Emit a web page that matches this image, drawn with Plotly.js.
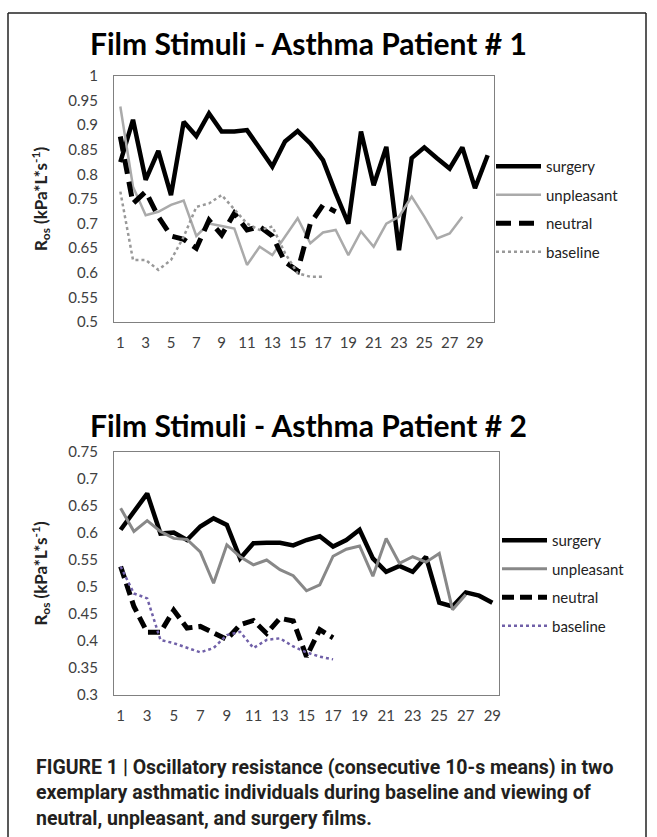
<!DOCTYPE html>
<html>
<head>
<meta charset="utf-8">
<script src="https://cdn.plot.ly/plotly-3.0.1.min.js"></script>
<style>
html,body{margin:0;padding:0;background:#fff;}
#chart{width:657px;height:837px;}
</style>
</head>
<body>
<div id="chart"></div>
<script>
// ---- data ----
const xCats1 = [1,2,3,4,5,6,7,8,9,10,11,12,13,14,15,16,17,18,19,20,21,22,23,24,25,26,27,28,29,30];
const xCats2 = [1,2,3,4,5,6,7,8,9,10,11,12,13,14,15,16,17,18,19,20,21,22,23,24,25,26,27,28,29];
const xTickVals = [1,3,5,7,9,11,13,15,17,19,21,23,25,27,29];
const xTickText = ["1","3","5","7","9","11","13","15","17","19","21","23","25","27","29"];
const yTicks1 = [0.5,0.55,0.6,0.65,0.7,0.75,0.8,0.85,0.9,0.95,1];
const yTickText1 = ["0.5","0.55","0.6","0.65","0.7","0.75","0.8","0.85","0.9","0.95","1"];
const yTicks2 = [0.3,0.35,0.4,0.45,0.5,0.55,0.6,0.65,0.7,0.75];
const yTickText2 = ["0.3","0.35","0.4","0.45","0.5","0.55","0.6","0.65","0.7","0.75"];
const seriesNames = ["surgery","unpleasant","neutral","baseline"];

// Patient 1
const surgery1 = [0.825,0.911,0.789,0.848,0.758,0.907,0.878,0.924,0.887,0.887,0.890,0.853,0.816,0.867,0.888,0.863,0.829,0.762,0.700,0.887,0.778,0.856,0.646,0.833,0.855,0.833,0.812,0.855,0.772,0.839];
const unpleasant1 = [0.938,0.775,0.717,0.724,0.738,0.747,0.675,0.700,0.695,0.690,0.616,0.653,0.636,0.673,0.711,0.660,0.682,0.687,0.636,0.684,0.653,0.700,0.714,0.755,0.714,0.670,0.680,0.714];
const neutral1 = [0.877,0.741,0.765,0.714,0.675,0.668,0.650,0.707,0.677,0.721,0.687,0.694,0.675,0.622,0.604,0.700,0.738,0.724];
const baseline1 = [0.765,0.626,0.626,0.606,0.626,0.673,0.734,0.741,0.758,0.728,0.700,0.687,0.694,0.640,0.599,0.592,0.592];

// Patient 2
const surgery2 = [0.606,0.640,0.673,0.599,0.601,0.587,0.612,0.627,0.615,0.553,0.581,0.582,0.582,0.577,0.587,0.594,0.575,0.587,0.606,0.553,0.528,0.539,0.528,0.556,0.471,0.464,0.490,0.484,0.471];
const unpleasant2 = [0.646,0.603,0.623,0.603,0.590,0.588,0.565,0.507,0.578,0.556,0.541,0.550,0.532,0.521,0.493,0.504,0.557,0.570,0.576,0.520,0.590,0.544,0.556,0.546,0.562,0.458,0.486];
const neutral2 = [0.538,0.464,0.416,0.416,0.457,0.424,0.427,0.414,0.403,0.430,0.438,0.414,0.442,0.437,0.371,0.421,0.406];
const baseline2 = [0.538,0.488,0.479,0.402,0.396,0.387,0.379,0.387,0.411,0.417,0.387,0.402,0.405,0.390,0.379,0.371,0.366];

const titles = ["Film Stimuli - Asthma Patient # 1","Film Stimuli - Asthma Patient # 2"];
const yTitle = "R<sub>os</sub> (kPa*L*s<sup>-1</sup>)";
const caption = [
  "FIGURE 1 | Oscillatory resistance (consecutive 10-s means) in two",
  "exemplary asthmatic individuals during baseline and viewing of",
  "neutral, unpleasant, and surgery films."
];

// ---- styles ----
const W = 657, H = 837;
const px = v => v / W;
const py = v => 1 - v / H;

function tr(x, y, name, idx, line, legend) {
  return {
    x: x.slice(0, y.length), y: y, name: name, type: "scatter", mode: "lines",
    line: line, xaxis: idx === 1 ? "x" : "x2", yaxis: idx === 1 ? "y" : "y2",
    legend: legend, legendgroup: name + idx, hoverinfo: "skip"
  };
}

const data = [
  tr(xCats1, surgery1, seriesNames[0], 1, {color: "#000", width: 4.5}, "legend"),
  tr(xCats1, unpleasant1, seriesNames[1], 1, {color: "#aaaaaa", width: 2.5}, "legend"),
  tr(xCats1, neutral1, seriesNames[2], 1, {color: "#000", width: 5, dash: "15px,8px"}, "legend"),
  tr(xCats1, baseline1, seriesNames[3], 1, {color: "#999999", width: 2.5, dash: "dot"}, "legend"),
  tr(xCats2, surgery2, seriesNames[0], 2, {color: "#000", width: 4.5}, "legend2"),
  tr(xCats2, unpleasant2, seriesNames[1], 2, {color: "#888888", width: 3}, "legend2"),
  tr(xCats2, neutral2, seriesNames[2], 2, {color: "#000", width: 5, dash: "12px,6px"}, "legend2"),
  tr(xCats2, baseline2, seriesNames[3], 2, {color: "#7060a8", width: 2.5, dash: "dot"}, "legend2")
];

const tickFont = {family: "Lato, 'Open Sans', sans-serif", size: 15, color: "#404040"};
const axCommon = {
  showgrid: false, zeroline: false, showline: true, mirror: true,
  linecolor: "#808080", linewidth: 1, ticks: "", tickfont: tickFont, fixedrange: true
};
const yTitleObj = {text: "<b>" + yTitle + "</b>", font: {family: "Lato, 'Open Sans', sans-serif", size: 17, color: "#222"}, standoff: 16};
const legendCommon = {
  font: {family: "Lato, 'Open Sans', sans-serif", size: 15, color: "#222"},
  bgcolor: "rgba(0,0,0,0)", borderwidth: 0, tracegroupgap: 6, itemwidth: 45,
  xanchor: "left", yanchor: "top", itemclick: false, itemdoubleclick: false
};

const layout = {
  width: W, height: H, margin: {l: 0, r: 0, t: 0, b: 0},
  paper_bgcolor: "#fff", plot_bgcolor: "#fff", showlegend: true,
  xaxis: Object.assign({}, axCommon, {domain: [px(114), px(494)], range: [0.5, 30.5], tickvals: xTickVals, ticktext: xTickText, anchor: "y", ticklabelstandoff: 7}),
  yaxis: Object.assign({}, axCommon, {domain: [py(322), py(76)], range: [0.5, 1], tickvals: yTicks1, ticktext: yTickText1, anchor: "x", title: yTitleObj, ticklabelstandoff: 12}),
  xaxis2: Object.assign({}, axCommon, {domain: [px(114), px(499)], range: [0.5, 29.5], tickvals: xTickVals, ticktext: xTickText, anchor: "y2", ticklabelstandoff: 7}),
  yaxis2: Object.assign({}, axCommon, {domain: [py(695), py(452)], range: [0.3, 0.75], tickvals: yTicks2, ticktext: yTickText2, anchor: "x2", title: yTitleObj, ticklabelstandoff: 12}),
  legend: Object.assign({}, legendCommon, {x: px(491), y: py(150)}),
  legend2: Object.assign({}, legendCommon, {x: px(497), y: py(524)}),
  annotations: [
    {text: "<b>" + titles[0] + "</b>", xref: "paper", yref: "paper", x: px(308), y: py(43), showarrow: false,
     font: {family: "Lato, 'Open Sans', sans-serif", size: 30, color: "#000"}, xanchor: "center", yanchor: "middle"},
    {text: "<b>" + titles[1] + "</b>", xref: "paper", yref: "paper", x: px(308), y: py(425), showarrow: false,
     font: {family: "Lato, 'Open Sans', sans-serif", size: 30, color: "#000"}, xanchor: "center", yanchor: "middle"}
  ].concat(caption.map((t, i) => ({
    text: "<b>" + t + "</b>", xref: "paper", yref: "paper", x: px(34), y: py(767 + i * 25.5),
    showarrow: false, xanchor: "left", yanchor: "middle",
    font: {family: "Roboto, 'Liberation Sans', sans-serif", size: 19.5, color: "#231f20"}
  }))),
  shapes: [
    {type: "line", xref: "paper", yref: "paper", x0: px(8), x1: px(8), y0: 0, y1: py(13), line: {color: "#222", width: 1.5}},
    {type: "line", xref: "paper", yref: "paper", x0: px(8), x1: px(646), y0: py(13), y1: py(13), line: {color: "#222", width: 1.5}},
    {type: "line", xref: "paper", yref: "paper", x0: px(646), x1: px(646), y0: 0, y1: py(13), line: {color: "#222", width: 1.5}}
  ]
};

Plotly.newPlot("chart", data, layout, {displayModeBar: false, staticPlot: true});
</script>
</body>
</html>
